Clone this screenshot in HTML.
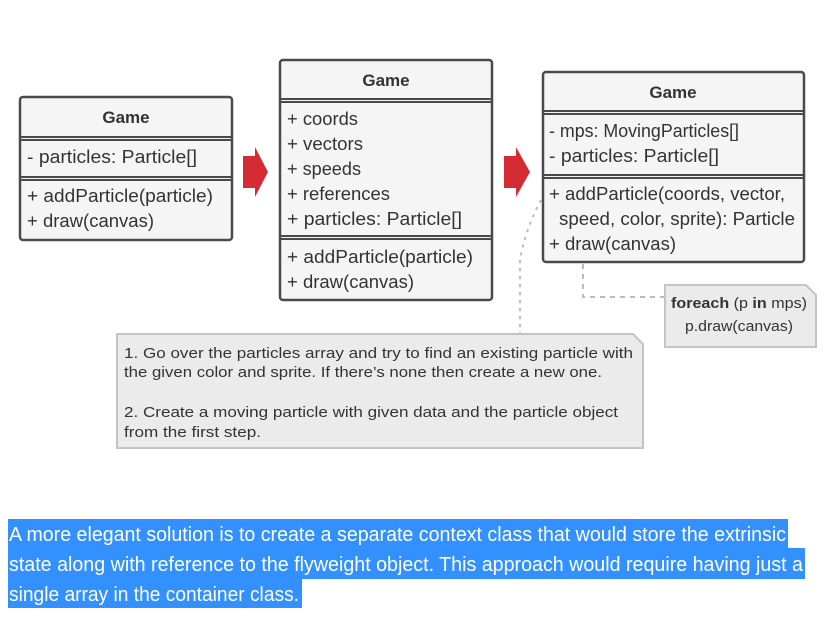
<!DOCTYPE html>
<html><head><style>
body{margin:0;background:#fff;width:836px;height:628px;overflow:hidden;position:relative;font-family:"Liberation Sans",sans-serif}
svg{position:absolute;left:0;top:0}
.hl{position:absolute;left:8px;background:#3390ff}
</style></head><body>
<div class="hl" style="top:519px;height:29px;width:780px"></div>
<div class="hl" style="top:548px;height:31px;width:797px"></div>
<div class="hl" style="top:579px;height:29px;width:294px"></div>
<svg width="836" height="628" viewBox="0 0 836 628" font-family="Liberation Sans, sans-serif">
<g fill="#f5f5f5" stroke="#4a4a4a" stroke-width="2.5">
<rect x="20" y="97" width="212" height="143" rx="3"/>
<rect x="280" y="60" width="212" height="240" rx="3"/>
<rect x="543" y="72" width="261" height="190" rx="3"/>
</g>
<g stroke="#4a4a4a" stroke-width="2">
<line x1="20" y1="137" x2="232" y2="137"/><line x1="20" y1="140" x2="232" y2="140"/>
<line x1="20" y1="177" x2="232" y2="177"/><line x1="20" y1="180" x2="232" y2="180"/>
<line x1="280" y1="99" x2="492" y2="99"/><line x1="280" y1="102" x2="492" y2="102"/>
<line x1="280" y1="236" x2="492" y2="236"/><line x1="280" y1="239" x2="492" y2="239"/>
<line x1="543" y1="111" x2="804" y2="111"/><line x1="543" y1="114" x2="804" y2="114"/>
<line x1="543" y1="175" x2="804" y2="175"/><line x1="543" y1="178" x2="804" y2="178"/>
</g>
<polygon points="243,156 255,156 255,147 268,172 255,197 255,188 243,188" fill="#d42b35"/>
<polygon points="504,156 516,156 516,147 530,172 516,197 516,188 504,188" fill="#d42b35"/>
<path d="M541,200 Q525,230 520,260 L520,335" fill="none" stroke="#bbb" stroke-width="2" stroke-dasharray="3,5"/>
<path d="M583,264 L583,297 L665,297" fill="none" stroke="#bbb" stroke-width="2" stroke-dasharray="5,5"/>
<path d="M117,334 L633,334 L643,344 L643,448 L117,448 Z" fill="#ebebeb" stroke="#c4c4c4" stroke-width="2"/>
<path d="M665,285 L806,285 L816,295 L816,347 L665,347 Z" fill="#ebebeb" stroke="#c4c4c4" stroke-width="2"/>
<g fill="#333" font-size="18" lengthAdjust="spacingAndGlyphs">
<text x="126" y="123" font-weight="bold" text-anchor="middle" font-size="17">Game</text>
<text x="386" y="86" font-weight="bold" text-anchor="middle" font-size="17">Game</text>
<text x="673" y="98" font-weight="bold" text-anchor="middle" font-size="17">Game</text>
<text x="27" y="163" textLength="170" lengthAdjust="spacingAndGlyphs">- particles: Particle[]</text>
<text x="27" y="202" textLength="186" lengthAdjust="spacingAndGlyphs">+ addParticle(particle)</text>
<text x="27" y="227" textLength="127" lengthAdjust="spacingAndGlyphs">+ draw(canvas)</text>
<text x="287" y="125" textLength="71" lengthAdjust="spacingAndGlyphs">+ coords</text>
<text x="287" y="150" textLength="76" lengthAdjust="spacingAndGlyphs">+ vectors</text>
<text x="287" y="175" textLength="74" lengthAdjust="spacingAndGlyphs">+ speeds</text>
<text x="287" y="200" textLength="103" lengthAdjust="spacingAndGlyphs">+ references</text>
<text x="287" y="225" textLength="175" lengthAdjust="spacingAndGlyphs">+ particles: Particle[]</text>
<text x="287" y="263" textLength="186" lengthAdjust="spacingAndGlyphs">+ addParticle(particle)</text>
<text x="287" y="288" textLength="127" lengthAdjust="spacingAndGlyphs">+ draw(canvas)</text>
<text x="549" y="137" textLength="190" lengthAdjust="spacingAndGlyphs">- mps: MovingParticles[]</text>
<text x="549" y="162" textLength="170" lengthAdjust="spacingAndGlyphs">- particles: Particle[]</text>
<text x="549" y="200" textLength="236" lengthAdjust="spacingAndGlyphs">+ addParticle(coords, vector,</text>
<text x="559" y="225" textLength="236" lengthAdjust="spacingAndGlyphs">speed, color, sprite): Particle</text>
<text x="549" y="250" textLength="127" lengthAdjust="spacingAndGlyphs">+ draw(canvas)</text>
</g>
<g fill="#333" font-size="15">
<text x="671" y="308" textLength="136" lengthAdjust="spacingAndGlyphs"><tspan font-weight="bold">foreach</tspan> (p <tspan font-weight="bold">in</tspan> mps)</text>
<text x="685" y="331" textLength="108" lengthAdjust="spacingAndGlyphs">p.draw(canvas)</text>
<text x="124" y="358" textLength="509" lengthAdjust="spacingAndGlyphs">1. Go over the particles array and try to find an existing particle with</text>
<text x="124" y="377" textLength="478" lengthAdjust="spacingAndGlyphs">the given color and sprite. If there’s none then create a new one.</text>
<text x="124" y="417" textLength="494" lengthAdjust="spacingAndGlyphs">2. Create a moving particle with given data and the particle object</text>
<text x="124" y="437" textLength="137" lengthAdjust="spacingAndGlyphs">from the first step.</text>
</g>
<g fill="#fff" font-size="20">
<text x="9" y="541" textLength="777" lengthAdjust="spacingAndGlyphs">A more elegant solution is to create a separate context class that would store the extrinsic</text>
<text x="9" y="571" textLength="794" lengthAdjust="spacingAndGlyphs">state along with reference to the flyweight object. This approach would require having just a</text>
<text x="9" y="601" textLength="290" lengthAdjust="spacingAndGlyphs">single array in the container class.</text>
</g>
</svg>
</body></html>
